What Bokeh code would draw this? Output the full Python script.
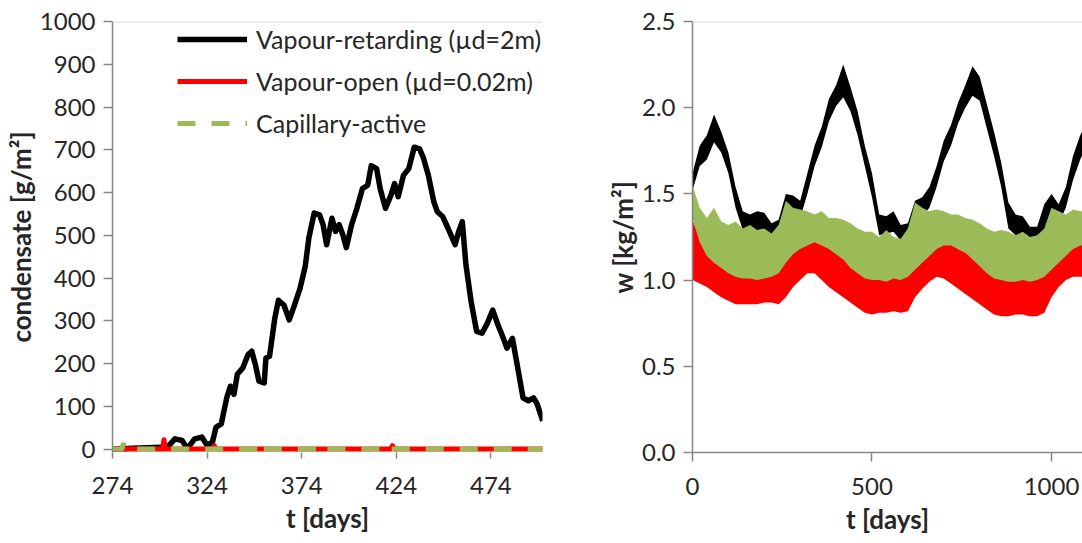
from bokeh.plotting import figure
from bokeh.layouts import row
from bokeh.models import Range1d, FixedTicker, Span, NumeralTickFormatter
from bokeh.embed import file_html
from bokeh.resources import INLINE

# ---------------- left panel: condensate ----------------
ret_t = [274, 303.2, 307.0, 310.8, 313.6, 317.4, 321.2, 324.0, 326.8, 328.7, 331.5, 334.4, 336.3,
         338.2, 340.0, 342.9, 345.7, 347.6, 349.5, 351.4, 354.2, 355.1, 357.0, 359.8, 361.7, 364.6,
         367.4, 370.2, 373.1, 375.9, 377.8, 380.6, 383.4, 385.3, 387.2, 390.0, 391.9, 393.8, 395.7,
         397.6, 400.4, 403.2, 406.1, 408.9, 410.8, 413.6, 415.5, 418.3, 421.2, 423.1, 425.0, 427.8,
         430.6, 433.5, 436.3, 438.2, 441.0, 443.8, 445.7, 448.5, 451.3, 455.1, 457.0, 458.9, 460.8,
         463.6, 466.5, 469.3, 472.1, 475.0, 477.8, 480.6, 482.5, 485.4, 488.2, 491.0, 493.8, 496.6,
         498.5, 501.4]
ret_v = [0, 5, 24, 20, 1, 24, 28, 9, 16, 51, 59, 120, 147,
         128, 175, 190, 221, 229, 198, 159, 155, 213, 217, 306, 348, 337,
         302, 337, 375, 428, 494, 552, 548, 525, 478, 540, 509, 525, 502,
         471, 525, 563, 609, 617, 663, 656, 609, 563, 594, 621, 590, 640,
         656, 706, 702, 683, 640, 579, 555, 544, 517, 478, 509, 532, 432,
         344, 275, 271, 294, 325, 290, 259, 236, 259, 190, 120, 113, 120,
         105, 66]

open_t = [274, 300.5, 301.2, 301.9, 327.0, 327.8, 328.6, 421.0, 422.0, 423.0, 502]
open_v = [0, 0, 22, 0, 0, 8, 0, 0, 8, 0, 0]

cap_t = [274, 279.0, 279.8, 280.6, 350.5, 351.3, 352.1, 384.5, 385.3, 386.1, 418.5, 419.3, 420.1, 502]
cap_v = [0, 0, 14, 0, 0, 14, 0, 0, 8, 0, 0, 7, 0, 0]

x1_ticks = [274, 324, 374, 424, 474]
y1_ticks = [0, 100, 200, 300, 400, 500, 600, 700, 800, 900, 1000]

# ---------------- right panel: moisture content ----------------
days_w = [0, 20, 40, 60, 80, 100, 120, 140, 160, 180, 200, 220, 240, 260, 280, 300, 320, 340, 360, 380,
          400, 420, 440, 460, 480, 500, 520, 540, 560, 580, 600, 620, 640, 660, 680, 700, 720, 740, 760,
          780, 800, 820, 840, 860, 880, 900, 920, 940, 960, 980, 1000, 1020, 1040, 1060, 1080, 1100]
black_lo = [1.52, 1.66, 1.70, 1.80, 1.74, 1.62, 1.42, 1.29, 1.28, 1.29, 1.28, 1.26, 1.27, 1.36, 1.38,
            1.36, 1.50, 1.66, 1.77, 1.92, 2.01, 2.06, 1.98, 1.84, 1.66, 1.48, 1.26, 1.27, 1.28, 1.23,
            1.24, 1.33, 1.37, 1.42, 1.54, 1.69, 1.78, 1.91, 2.00, 2.07, 2.04, 1.88, 1.72, 1.54, 1.30,
            1.26, 1.26, 1.22, 1.22, 1.28, 1.40, 1.33, 1.42, 1.58, 1.70, 1.78]
black_hi = [1.62, 1.78, 1.84, 1.96, 1.86, 1.74, 1.54, 1.40, 1.38, 1.40, 1.39, 1.33, 1.35, 1.50, 1.49,
            1.46, 1.62, 1.78, 1.89, 2.05, 2.13, 2.25, 2.12, 1.98, 1.78, 1.62, 1.38, 1.37, 1.40, 1.32,
            1.33, 1.46, 1.48, 1.54, 1.66, 1.81, 1.90, 2.03, 2.13, 2.24, 2.18, 2.02, 1.86, 1.68, 1.45,
            1.38, 1.37, 1.31, 1.31, 1.44, 1.50, 1.44, 1.54, 1.72, 1.84, 1.92]
red_lo = [1.00, 0.98, 0.96, 0.93, 0.90, 0.88, 0.86, 0.86, 0.86, 0.86, 0.87, 0.87, 0.86, 0.90, 0.96,
          1.00, 1.04, 1.04, 1.00, 0.96, 0.93, 0.90, 0.87, 0.84, 0.81, 0.80, 0.81, 0.81, 0.82, 0.81,
          0.82, 0.90, 0.95, 0.99, 1.02, 1.01, 0.98, 0.95, 0.92, 0.89, 0.86, 0.83, 0.80, 0.79, 0.79,
          0.80, 0.80, 0.79, 0.79, 0.81, 0.90, 0.96, 1.00, 1.02, 1.02, 1.02]
red_hi = [1.35, 1.24, 1.18, 1.12, 1.09, 1.07, 1.06, 1.06, 1.05, 1.06, 1.05, 1.06, 1.08, 1.14, 1.18,
          1.21, 1.23, 1.24, 1.23, 1.21, 1.18, 1.16, 1.12, 1.08, 1.04, 1.03, 1.03, 1.03, 1.02, 1.03,
          1.06, 1.14, 1.17, 1.20, 1.22, 1.22, 1.21, 1.18, 1.16, 1.13, 1.10, 1.07, 1.04, 1.03, 1.02,
          1.02, 1.03, 1.02, 1.03, 1.05, 1.14, 1.18, 1.21, 1.22, 1.23, 1.23]
green_lo = [1.36, 1.22, 1.14, 1.10, 1.07, 1.04, 1.02, 1.01, 1.01, 1.00, 1.01, 1.02, 1.04, 1.10, 1.15,
            1.18, 1.20, 1.22, 1.20, 1.18, 1.15, 1.12, 1.07, 1.04, 1.01, 1.00, 1.00, 0.99, 1.01, 1.00,
            1.02, 1.06, 1.10, 1.14, 1.18, 1.20, 1.20, 1.18, 1.16, 1.12, 1.08, 1.04, 1.01, 1.00, 0.99,
            0.99, 1.00, 0.99, 1.00, 1.02, 1.06, 1.10, 1.14, 1.18, 1.20, 1.20]
green_hi = [1.55, 1.42, 1.36, 1.42, 1.34, 1.32, 1.34, 1.30, 1.32, 1.29, 1.30, 1.27, 1.32, 1.46, 1.42,
            1.41, 1.40, 1.38, 1.40, 1.36, 1.36, 1.35, 1.33, 1.30, 1.28, 1.28, 1.25, 1.29, 1.25, 1.24,
            1.30, 1.45, 1.42, 1.40, 1.41, 1.40, 1.38, 1.38, 1.36, 1.35, 1.33, 1.30, 1.28, 1.29, 1.28,
            1.26, 1.28, 1.25, 1.26, 1.30, 1.42, 1.40, 1.38, 1.41, 1.40, 1.40]

x2_ticks = [0, 500, 1000]
y2_ticks = [0, 0.5, 1.0, 1.5, 2.0, 2.5]

BLACK = "#000000"
RED = "#FF0000"
GREEN = "#9BBB59"
AXIS = "#868686"
TEXT = "#262626"
FONT = "Lato"


def style(p, xlabel, ylabel, xticks, yticks):
    p.xgrid.visible = False
    p.ygrid.visible = False
    p.outline_line_color = None
    p.xaxis.ticker = FixedTicker(ticks=xticks)
    p.yaxis.ticker = FixedTicker(ticks=yticks)
    p.xaxis.axis_label = xlabel
    p.yaxis.axis_label = ylabel
    for ax in (p.xaxis[0], p.yaxis[0]):
        ax.axis_line_color = AXIS
        ax.axis_line_width = 1.5
        ax.major_tick_line_color = AXIS
        ax.major_tick_line_width = 1.5
        ax.major_tick_out = 9
        ax.major_tick_in = 0
        ax.minor_tick_line_color = None
        ax.major_label_text_font = FONT
        ax.major_label_text_font_size = "24px"
        ax.major_label_text_color = TEXT
        ax.axis_label_text_font = FONT
        ax.axis_label_text_font_size = "26px"
        ax.axis_label_text_font_style = "bold"
        ax.axis_label_text_color = TEXT
    p.xaxis.major_label_standoff = 16
    p.xaxis.axis_label_standoff = 5
    p.yaxis.major_label_standoff = 8
    p.yaxis.axis_label_standoff = 0


# the frame reaches a few px below y=0 so the zero-level lines are not clipped;
# those lines cover the x-axis line at y=0, as in the original chart
p1 = figure(width=598, height=543, x_range=Range1d(274, 501.3), y_range=Range1d(-8, 1000),
            output_backend="svg", toolbar_location=None,
            min_border_left=112, min_border_right=56, min_border_top=21, min_border_bottom=87)
style(p1, "t [days]", "condensate [g/m²]", x1_ticks, y1_ticks)
p1.xaxis[0].axis_line_color = None
p1.xaxis[0].major_tick_out = 6
p1.xaxis[0].major_label_standoff = 18
p1.add_layout(Span(location=1000, dimension="width", line_color="#d9d9d9", line_width=2))

p1.line(ret_t, ret_v, line_color=BLACK, line_width=5.5, line_join="round",
        legend_label="Vapour-retarding (µd=2m)")
p1.line(open_t, open_v, line_color=RED, line_width=5, line_join="round",
        legend_label="Vapour-open (µd=0.02m)")
p1.line(cap_t, cap_v, line_color=GREEN, line_width=5, line_dash="18 16",
        legend_label="Capillary-active")

lg = p1.legend[0]
lg.location = (65, 314)
lg.border_line_color = None
lg.background_fill_alpha = 0
lg.padding = 0
lg.margin = 0
lg.spacing = 12
lg.glyph_width = 70
lg.glyph_height = 24
lg.label_height = 24
lg.label_standoff = 9
lg.label_text_font = FONT
lg.label_text_font_size = "25px"
lg.label_text_color = TEXT

p2 = figure(width=484, height=543, x_range=Range1d(0, 1086.4), y_range=Range1d(0, 2.5),
            output_backend="svg", toolbar_location=None,
            min_border_left=94, min_border_right=0, min_border_top=21, min_border_bottom=91)
style(p2, "t [days]", "w [kg/m²]", x2_ticks, y2_ticks)
p2.yaxis.formatter = NumeralTickFormatter(format="0.0")
p2.add_layout(Span(location=2.5, dimension="width", line_color="#d9d9d9", line_width=2))

p2.varea(x=days_w, y1=black_lo, y2=black_hi, fill_color=BLACK)
p2.varea(x=days_w, y1=red_lo, y2=red_hi, fill_color=RED)
p2.varea(x=days_w, y1=green_lo, y2=green_hi, fill_color=GREEN)

layout = row(p1, p2)
open("out.html", "w").write(file_html(layout, INLINE))
